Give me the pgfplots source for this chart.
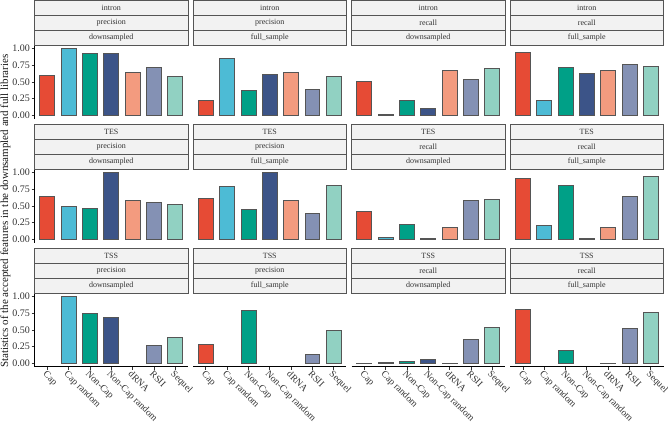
\documentclass[border=0pt]{standalone}
\usepackage{pgfplots}
\pgfplotsset{compat=1.18}
\usepackage{fontspec}
\setmainfont{Liberation Serif}
\definecolor{cA}{HTML}{E64B35}
\definecolor{cB}{HTML}{4DBBD5}
\definecolor{cC}{HTML}{00A087}
\definecolor{cD}{HTML}{3C5488}
\definecolor{cE}{HTML}{F39B7F}
\definecolor{cF}{HTML}{8491B4}
\definecolor{cG}{HTML}{91D1C2}
\definecolor{edge}{HTML}{555555}
\definecolor{stripfill}{HTML}{F2F2F2}
\definecolor{stripedge}{HTML}{555555}

\newcommand{\bars}[7]{%
  \addplot[fill=cA,draw=edge] coordinates {(1,#1)};
  \addplot[fill=cB,draw=edge] coordinates {(2,#2)};
  \addplot[fill=cC,draw=edge] coordinates {(3,#3)};
  \addplot[fill=cD,draw=edge] coordinates {(4,#4)};
  \addplot[fill=cE,draw=edge] coordinates {(5,#5)};
  \addplot[fill=cF,draw=edge] coordinates {(6,#6)};
  \addplot[fill=cG,draw=edge] coordinates {(7,#7)};
}
\newcommand{\strips}[5]{% x0, ybottom, feature, metric, sample
  \begin{scope}[every node/.style={font=\fontsize{8}{9}\selectfont, text=black!80}]
  \draw[fill=stripfill, draw=stripedge, line width=0.6pt] (#1pt,#2pt) rectangle ++(153.5pt,15pt) node[midway] {#5};
  \draw[fill=stripfill, draw=stripedge, line width=0.6pt] (#1pt,#2pt+15pt) rectangle ++(153.5pt,15pt) node[midway] {#4};
  \draw[fill=stripfill, draw=stripedge, line width=0.6pt] (#1pt,#2pt+30pt) rectangle ++(153.5pt,15pt) node[midway] {#3};
  \end{scope}
}

\pgfplotsset{
  panel/.style={
    scale only axis, width=153.5pt, height=73.7pt, anchor=south west,
    xmin=0.4, xmax=7.6, ymin=-0.05, ymax=1.05, enlargelimits=false,
    ybar, bar width=0.7, bar shift=0pt,
    every axis plot/.append style={line width=0.7pt},
    axis x line*=bottom, axis y line*=left,
    xtick={1,2,3,4,5,6,7},
    xticklabels={Cap, Cap random, Non-Cap, Non-Cap random, dRNA, RSII, Sequel},
    ytick={0,0.25,0.5,0.75,1},
    yticklabel={\pgfmathprintnumber[fixed,fixed zerofill,precision=2,assume math mode=true]{\tick}},
    tick align=outside, major tick length=3pt,
    tick style={black!80, line width=0.6pt},
    axis line style={black, line width=0.6pt},
    ticklabel style={font=\fontsize{10}{12}\selectfont, text=black!80},
    xticklabel style={rotate=-45, anchor=north west, inner sep=0pt, font=\fontsize{9.6}{11}\selectfont},
    yticklabel style={inner sep=1.5pt},
  },
  nox/.style={hide x axis},
  noy/.style={hide y axis},
}

\begin{document}
\begin{tikzpicture}
% Row 1: intron
\begin{axis}[panel, nox, at={(34.5pt,305.3pt)}]
\bars{0.59}{1.00}{0.925}{0.925}{0.64}{0.71}{0.585}
\end{axis}
\begin{axis}[panel, nox, noy, at={(193pt,305.3pt)}]
\bars{0.23}{0.85}{0.37}{0.61}{0.64}{0.395}{0.58}
\end{axis}
\begin{axis}[panel, nox, noy, at={(351.5pt,305.3pt)}]
\bars{0.505}{0.01}{0.225}{0.105}{0.675}{0.535}{0.705}
\end{axis}
\begin{axis}[panel, nox, noy, at={(510pt,305.3pt)}]
\bars{0.945}{0.22}{0.715}{0.63}{0.675}{0.76}{0.73}
\end{axis}
% Row 2: TES
\begin{axis}[panel, nox, at={(34.5pt,181.3pt)}]
\bars{0.64}{0.495}{0.46}{1.00}{0.575}{0.55}{0.52}
\end{axis}
\begin{axis}[panel, nox, noy, at={(193pt,181.3pt)}]
\bars{0.61}{0.79}{0.445}{1.00}{0.58}{0.39}{0.805}
\end{axis}
\begin{axis}[panel, nox, noy, at={(351.5pt,181.3pt)}]
\bars{0.42}{0.035}{0.23}{0.015}{0.185}{0.575}{0.595}
\end{axis}
\begin{axis}[panel, nox, noy, at={(510pt,181.3pt)}]
\bars{0.905}{0.205}{0.80}{0.015}{0.185}{0.64}{0.94}
\end{axis}
% Row 3: TSS
\begin{axis}[panel, at={(34.5pt,57.3pt)}]
\bars{nan}{1.00}{0.74}{0.685}{nan}{0.275}{0.395}
\end{axis}
\begin{axis}[panel, noy, at={(193pt,57.3pt)}]
\bars{0.285}{nan}{0.785}{nan}{nan}{0.14}{0.50}
\end{axis}
\begin{axis}[panel, noy, at={(351.5pt,57.3pt)}]
\bars{0.005}{0.02}{0.025}{0.065}{0.005}{0.36}{0.54}
\end{axis}
\begin{axis}[panel, noy, at={(510pt,57.3pt)}]
\bars{0.81}{nan}{0.19}{nan}{0.005}{0.525}{0.76}
\end{axis}

% strips
\strips{34.5}{379}{intron}{precision}{downsampled}
\strips{193}{379}{intron}{precision}{full\_sample}
\strips{351.5}{379}{intron}{recall}{downsampled}
\strips{510}{379}{intron}{recall}{full\_sample}
\strips{34.5}{255}{TES}{precision}{downsampled}
\strips{193}{255}{TES}{precision}{full\_sample}
\strips{351.5}{255}{TES}{recall}{downsampled}
\strips{510}{255}{TES}{recall}{full\_sample}
\strips{34.5}{131}{TSS}{precision}{downsampled}
\strips{193}{131}{TSS}{precision}{full\_sample}
\strips{351.5}{131}{TSS}{recall}{downsampled}
\strips{510}{131}{TSS}{recall}{full\_sample}

\node[rotate=90, font=\fontsize{11}{13}\selectfont, text=black!90, inner sep=0pt] at (5.5pt,213pt) {Statistics of the accepted features in the downsampled and full libraries};

\pgfresetboundingbox
\useasboundingbox (0pt,0pt) rectangle (668pt,424pt);
\end{tikzpicture}
\end{document}
